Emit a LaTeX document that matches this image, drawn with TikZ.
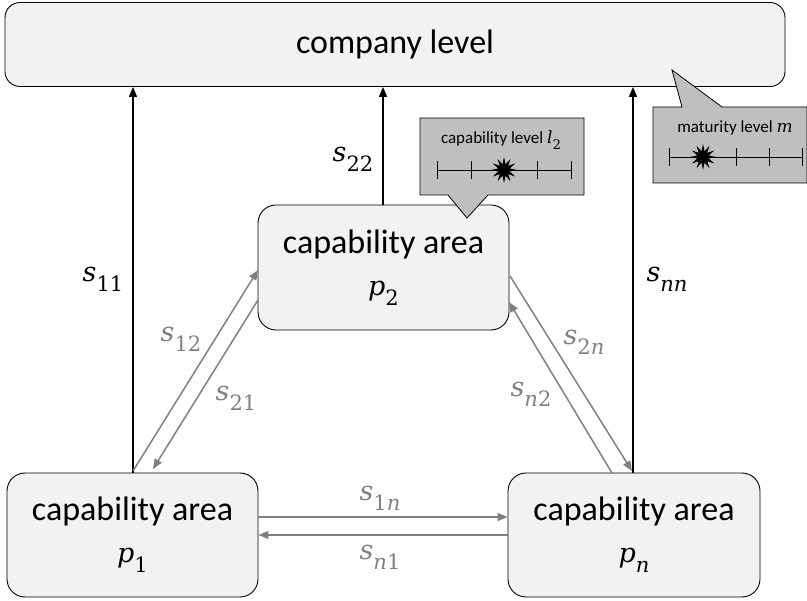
\documentclass[tikz,border=0pt]{standalone}
\usepackage{fontspec}
\setmainfont{Carlito}
\newfontfamily\symfont{DejaVu Serif}
\usetikzlibrary{arrows.meta,shapes.geometric}

% variable with a lowered, smaller index (first argument italic)
\newcommand\vsym[2]{{\symfont\itshape #1}\raisebox{-0.36em}{\scalebox{0.78}{\symfont #2}}}
\newcommand\vit[1]{{\itshape #1}}

\definecolor{boxfill}{HTML}{F2F2F2}
\definecolor{callfill}{HTML}{BFBFBF}
\definecolor{relgray}{HTML}{808080}

\tikzset{
  areabox/.style={draw=black, fill=boxfill, rounded corners=18pt, line width=0.9pt,
    inner sep=0pt, align=center, font=\fontsize{34}{40}\selectfont},
  uparrow/.style={draw=black, line width=1.2pt, -{Triangle[length=10pt,width=8pt]}},
  relarrow/.style={draw=relgray, line width=1.5pt, -{Triangle[length=10pt,width=8pt]}},
  biglabel/.style={font=\fontsize{27}{30}\selectfont},
  rellabel/.style={text=relgray, font=\fontsize{27}{30}\selectfont},
  callout/.style={draw=black, fill=callfill, line width=0.8pt},
  calltext/.style={font=\fontsize{17}{20}\selectfont},
  scaleline/.style={draw=black, line width=0.9pt},
  burst/.style={star, star points=12, star point ratio=2.2, fill=black, draw=none,
    minimum size=26pt, inner sep=0pt}
}

\begin{document}
\begin{tikzpicture}[x=1pt, y=-1pt]
\useasboundingbox (0,0) rectangle (807,601);

% company level
\node[areabox, minimum width=780pt, minimum height=84pt, rounded corners=15pt]
  (company) at (395,44.5) {company level};

% capability areas
\node[areabox, minimum width=251pt, minimum height=125pt] (p2) at (383.5,267.5)
  {capability area\\[2pt]{\fontsize{27}{30}\selectfont\vsym{p}{2}}};
\node[areabox, minimum width=251pt, minimum height=124pt] (p1) at (132.5,535)
  {capability area\\[2pt]{\fontsize{27}{30}\selectfont\vsym{p}{1}}};
\node[areabox, minimum width=252pt, minimum height=124pt] (pn) at (634,535)
  {capability area\\[2pt]{\fontsize{27}{30}\selectfont\vsym{p}{\vit{n}}}};

% connections to the company level
\draw[uparrow] (p1.north -| 133,0) coordinate (a1) -- (a1 |- company.south);
\draw[uparrow] (p2.north -| 383,0) coordinate (a2) -- (a2 |- company.south);
\draw[uparrow] (pn.north -| 633,0) coordinate (an) -- (an |- company.south);
\node[biglabel] (l11) at (103,279) {\vsym{s}{11}};
\node[biglabel] (l22) at (353,159) {\vsym{s}{22}};
\node[biglabel] (lnn) at (667,279) {\vsym{s}{\vit{nn}}};

% mutual relations between the areas
\coordinate (c12a) at (133,471);
\coordinate (c12b) at (258,270);
\coordinate (c21a) at (258,300);
\coordinate (c21b) at (153,469);
\draw[relarrow] (c12a) -- (c12b);
\draw[relarrow] (c21a) -- (c21b);
\node[rellabel] (l12) at (181,339) {\vsym{s}{12}};
\node[rellabel] (l21) at (236,398) {\vsym{s}{21}};

\coordinate (c2na) at (510,276);
\coordinate (c2nb) at (632,471);
\coordinate (cn2a) at (612,473);
\coordinate (cn2b) at (509,302);
\draw[relarrow] (c2na) -- (c2nb);
\draw[relarrow] (cn2a) -- (cn2b);
\node[rellabel] (l2n) at (584,342) {\vsym{s}{2\vit{n}}};
\node[rellabel] (ln2) at (531,394) {\vsym{s}{\vit{n}2}};

\draw[relarrow] (p1.east |- 0,517) -- (pn.west |- 0,517);
\draw[relarrow] (pn.west |- 0,535) -- (p1.east |- 0,535);
\node[rellabel] (l1n) at (380,498) {\vsym{s}{1\vit{n}}};
\node[rellabel] (ln1) at (380,557) {\vsym{s}{\vit{n}1}};

% callout: capability level of area p2
\draw[callout] (420,118) -- (584,118) -- (584,195) -- (488,195) -- (467,218)
  -- (448,195) -- (420,195) -- cycle;
\node[calltext] (cap) at (501,140) {capability level \vsym{l}{2}};
\draw[scaleline] (437,170) coordinate (cs) -- (571,170) coordinate (ce);
\foreach \x in {437,471,537,571} \draw[scaleline] (\x,161) -- (\x,179);
\node[burst] (capstar) at (504,170) {};

% callout: maturity level of the company
\draw[callout] (653,107) -- (682,107) -- (672,70) -- (722,107) -- (807,107)
  -- (807,183) -- (653,183) -- cycle;
\node[calltext] (mat) at (735,128) {maturity level {\symfont\itshape m}};
\draw[scaleline] (669,157) coordinate (ms) -- (802,157) coordinate (me);
\foreach \x in {669,736,769,802} \draw[scaleline] (\x,148) -- (\x,166);
\node[burst] (matstar) at (703,157) {};
\end{tikzpicture}
\end{document}
